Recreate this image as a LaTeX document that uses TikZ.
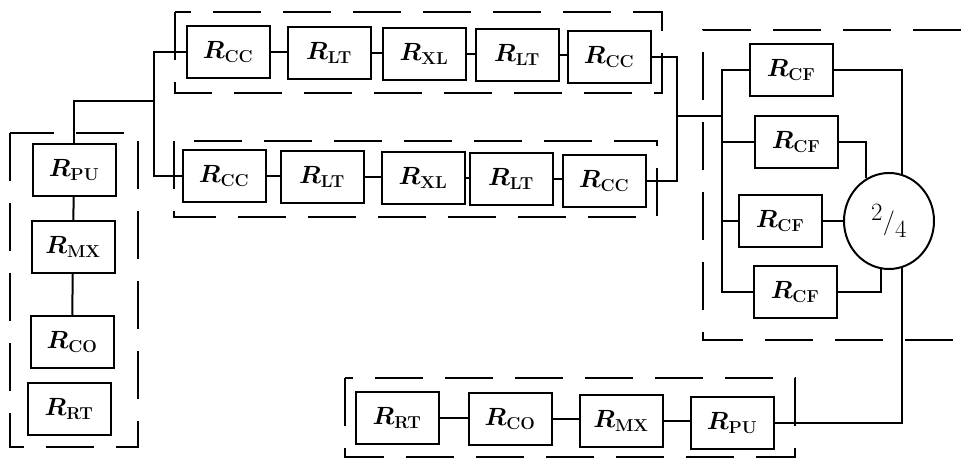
\documentclass[tikz,border=0pt]{standalone}
\usepackage{amsmath,amssymb,bm}
\usepackage{tikz}
\usetikzlibrary{shapes,calc}

\begin{document}
\begin{tikzpicture}[x=1pt,y=-1pt,
    block/.style={draw,line width=2pt,minimum width=83pt,minimum height=52pt,inner sep=0pt,font=\fontsize{26}{28}\selectfont},
    wire/.style={line width=2pt},
    group/.style={line width=2pt,dash pattern=on 48pt off 22pt}]
                \useasboundingbox (0,0) rectangle (961,462);

                % Upper line
                \node[block] (CCa) at (228,52) {$\bm{R}_{\mathbf{CC}}$};
                \node[block] (LTa) at (329,53) {$\bm{R}_{\mathbf{LT}}$};
                \node[block] (XLa) at (424,54) {$\bm{R}_{\mathbf{XL}}$};
                \node[block] (LTb) at (517,55) {$\bm{R}_{\mathbf{LT}}$};
                \node[block] (CCb) at (609,57) {$\bm{R}_{\mathbf{CC}}$};
                \draw[group] (175,12) rectangle (662,93);

                % Lower line
                \node[block] (CCc) at (224,176) {$\bm{R}_{\mathbf{CC}}$};
                \node[block] (LTc) at (322,177) {$\bm{R}_{\mathbf{LT}}$};
                \node[block] (XLb) at (423,178) {$\bm{R}_{\mathbf{XL}}$};
                \node[block] (LTd) at (511,179) {$\bm{R}_{\mathbf{LT}}$};
                \node[block] (CCd) at (604,181) {$\bm{R}_{\mathbf{CC}}$};
                \draw[group] (174,141) rectangle (657,217);

                \foreach \a/\b in {CCa/LTa,LTa/XLa,XLa/LTb,LTb/CCb,CCc/LTc,LTc/XLb,XLb/LTd,LTd/CCd}
                    \draw[wire] (\a.east) -- (\a.east -| \b.west);

                % Left station
                \node[block] (PUa) at (74,170) {$\bm{R}_{\mathbf{PU}}$};
                \node[block] (MXa) at (73,247) {$\bm{R}_{\mathbf{MX}}$};
                \node[block] (COa) at (72,342) {$\bm{R}_{\mathbf{CO}}$};
                \node[block] (RTa) at (69,409) {$\bm{R}_{\mathbf{RT}}$};
                \draw[group] (10,133) rectangle (138,447);
                \draw[wire] (PUa) -- (MXa);
                \draw[wire] (MXa) -- (COa);

                % Split to both lines
                \coordinate (splitL) at (154,101);
                \draw[wire] (PUa.north) |- (splitL);
                \draw[wire] (CCa.west) -| (splitL) |- (CCc.west);

                % Join and bus
                \coordinate (joinR) at (677,116);
                \coordinate (bus) at (722,116);
                \draw[wire] (CCb.east) -| (joinR) |- (CCd.east);
                \draw[wire] (joinR) -- (bus);

                % CF units
                \node[block] (CFa) at (791,70) {$\bm{R}_{\mathbf{CF}}$};
                \node[block] (CFb) at (796,142) {$\bm{R}_{\mathbf{CF}}$};
                \node[block] (CFc) at (780,221) {$\bm{R}_{\mathbf{CF}}$};
                \node[block] (CFd) at (795,292) {$\bm{R}_{\mathbf{CF}}$};
                \draw[wire] (CFa.west) -| (bus) |- (CFd.west);
                \draw[wire] (bus) |- (CFb.west);
                \draw[wire] (bus) |- (CFc.west);

                % Voting
                \node[draw,ellipse,line width=2pt,minimum width=90pt,minimum height=96pt,inner sep=0pt,
                    font=\fontsize{40}{42}\selectfont] (vote) at (889,221) {${}^{2}/{}_{4}$};
                \draw[wire] (CFa.east) -| (vote.75);
                \draw[wire] (CFb.east) -| (vote.118);
                \draw[wire] (CFc.east) -- (vote.west);
                \draw[wire] (CFd.east) -| (vote.261);
                \draw[group] (961,30) -- (703,30) -- (703,340) -- (961,340);

                % Right station
                \node[block] (RTb) at (397,418) {$\bm{R}_{\mathbf{RT}}$};
                \node[block] (COb) at (510,419) {$\bm{R}_{\mathbf{CO}}$};
                \node[block] (MXb) at (621,421) {$\bm{R}_{\mathbf{MX}}$};
                \node[block] (PUb) at (732,423) {$\bm{R}_{\mathbf{PU}}$};
                \draw[group] (345,378) rectangle (795,457);
                \foreach \a/\b in {RTb/COb,COb/MXb,MXb/PUb}
                    \draw[wire] (\a.east) -- (\a.east -| \b.west);
                \draw[wire] (vote.285) |- (PUb.east);
\end{tikzpicture}
\end{document}
